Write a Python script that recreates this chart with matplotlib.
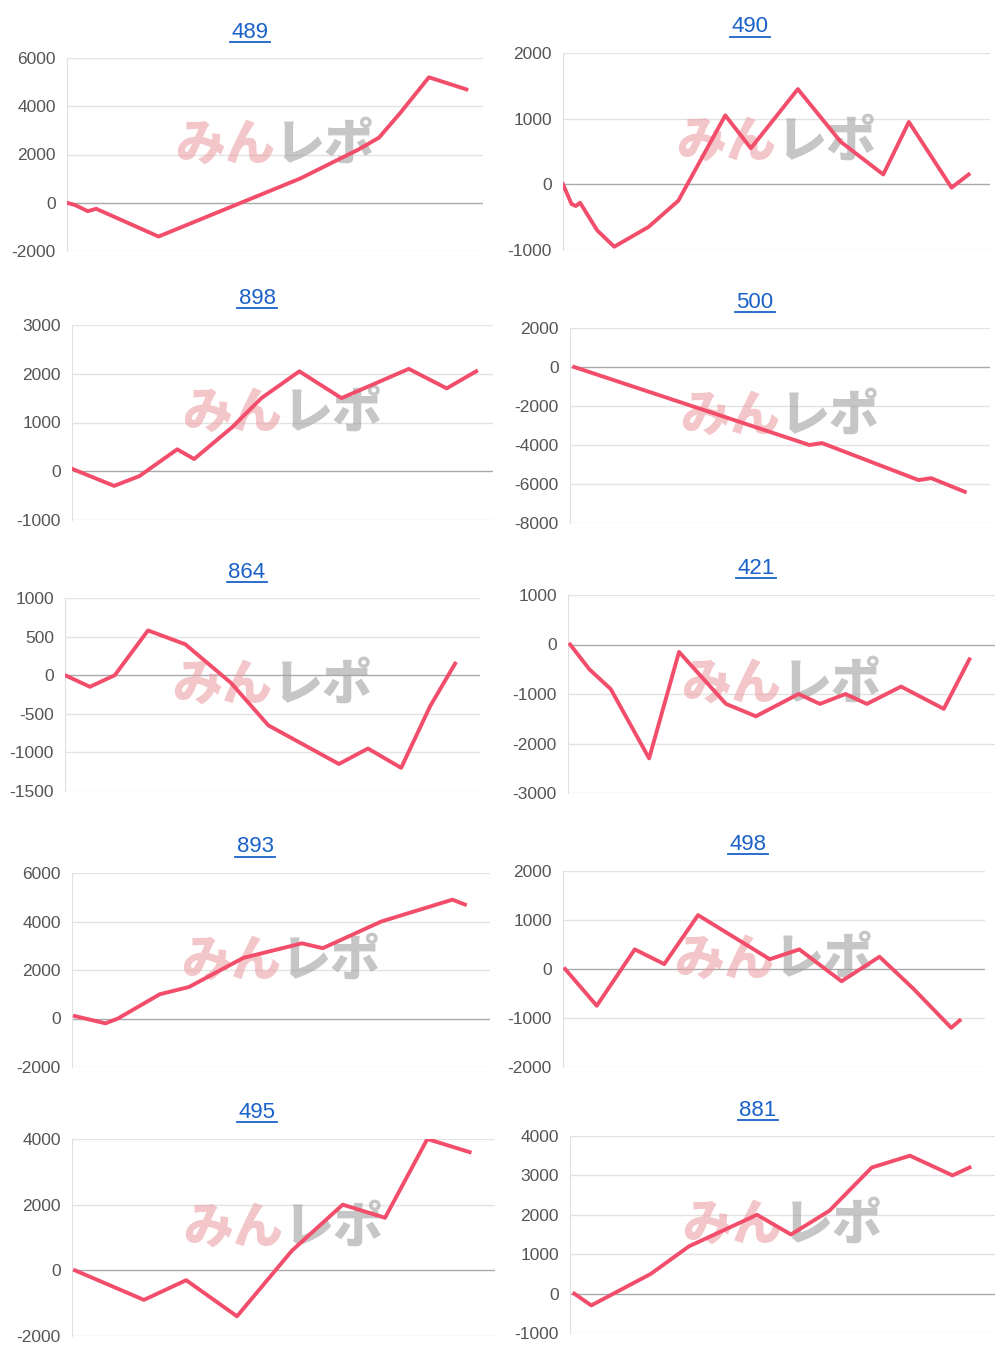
import matplotlib
matplotlib.use("Agg")
import matplotlib.pyplot as plt

plt.rcParams["font.family"] = ["Liberation Sans", "DejaVu Sans"]

W, H = 1000, 1358

# panel titles and data (x: % of plot width, y: value)
TITLES = ["489", "490", "898", "500", "864", "421", "893", "498", "495", "881"]

X489 = [0, 2, 5, 7, 22, 39, 56, 63, 70, 75, 80, 87, 96]
Y489 = [0, -100, -350, -250, -1400, -200, 1000, 1600, 2200, 2700, 3700, 5200, 4700]
X490 = [0, 2, 3, 4, 8, 12, 20, 27, 38, 44, 55, 65, 75, 81, 91, 95]
Y490 = [0, -300, -330, -280, -700, -950, -650, -250, 1050, 550, 1450, 650, 150, 950, -50, 150]
X898 = [0, 10, 16, 25, 29, 38, 45, 54, 64, 80, 89, 96]
Y898 = [50, -300, -100, 450, 250, 900, 1500, 2050, 1500, 2100, 1700, 2050]
X500 = [1, 57, 60, 83, 86, 94]
Y500 = [0, -4000, -3900, -5800, -5700, -6400]
X864 = [0, 6, 12, 20, 29, 40, 49, 66, 73, 81, 88, 94]
Y864 = [0, -150, 0, 580, 400, -100, -650, -1150, -950, -1200, -400, 150]
X421 = [0.5, 5, 10, 19, 26, 37, 44, 54, 59, 65, 70, 78, 88, 94]
Y421 = [0, -500, -900, -2300, -150, -1200, -1450, -1000, -1200, -1000, -1200, -850, -1300, -300]
X893 = [0.7, 8, 11, 21, 28, 41, 55, 60, 74, 91, 94]
Y893 = [100, -200, 0, 1000, 1300, 2500, 3100, 2900, 4000, 4900, 4700]
X498 = [0.5, 8, 17, 24, 32, 49, 56, 66, 75, 83, 92, 94]
Y498 = [0, -750, 400, 100, 1100, 200, 400, -250, 250, -400, -1200, -1050]
X495 = [0.7, 17, 27, 39, 52, 64, 74, 84, 94]
Y495 = [0, -900, -300, -1400, 600, 2000, 1600, 4000, 3600]
X881 = [1, 5, 19, 28, 44, 52, 61, 71, 80, 90, 94]
Y881 = [0, -300, 500, 1200, 2000, 1500, 2100, 3200, 3500, 3000, 3200]

SERIES = [(X489, Y489), (X490, Y490), (X898, Y898), (X500, Y500), (X864, Y864),
          (X421, Y421), (X893, Y893), (X498, Y498), (X495, Y495), (X881, Y881)]

TICKS = [
    [-2000, 0, 2000, 4000, 6000],
    [-1000, 0, 1000, 2000],
    [-1000, 0, 1000, 2000, 3000],
    [-8000, -6000, -4000, -2000, 0, 2000],
    [-1500, -1000, -500, 0, 500, 1000],
    [-3000, -2000, -1000, 0, 1000],
    [-2000, 0, 2000, 4000, 6000],
    [-2000, -1000, 0, 1000, 2000],
    [-2000, 0, 2000, 4000],
    [-1000, 0, 1000, 2000, 3000, 4000],
]

# pixel boxes: left, right, top, bottom, title x, title y
BOXES = [
    (67, 483, 58, 251, 250, 32), (563, 990, 53, 250, 750, 27),
    (72, 493, 325, 520, 257, 298), (570, 990, 328, 523, 755, 302),
    (65, 480, 598, 791, 247, 572), (568, 995, 595, 793, 756, 568),
    (72, 490, 873, 1067, 255, 847), (563, 985, 871, 1067, 748, 844),
    (72, 495, 1139, 1336, 257, 1112), (570, 995, 1136, 1333, 758, 1110),
]

LINE = "#f24d6b"
WM = dict(fontsize=36, fontweight="heavy", style="italic", alpha=0.6,
          family=["Noto Sans CJK JP", "DejaVu Sans"], zorder=1, va="center")

fig = plt.figure(figsize=(W / 100, H / 100), dpi=100)
for (xs, ys), ticks, title, (l, r, t, b, tx, ty) in zip(SERIES, TICKS, TITLES, BOXES):
    ax = fig.add_axes([l / W, 1 - b / H, (r - l) / W, (b - t) / H])
    ax.set_xlim(0, 100)
    ax.set_ylim(ticks[0], ticks[-1])
    ax.set_yticks(ticks)
    ax.set_yticklabels([str(v) for v in ticks])
    ax.set_xticks([])
    for s in ["top", "right", "bottom"]:
        ax.spines[s].set_visible(False)
    ax.spines["left"].set_color("#e0e0e0")
    ax.tick_params(axis="y", length=0, labelsize=12.5, labelcolor="#555555", pad=8)
    for v in ticks:
        ax.axhline(v, color="#aaaaaa" if v == 0 else "#e3e3e3", lw=1, zorder=0)
    ax.text(0.5, 0.55, "みん", transform=ax.transAxes, ha="right", color="#eba0a5", **WM)
    ax.text(0.5, 0.55, "レポ", transform=ax.transAxes, ha="left", color="#a0a0a0", **WM)
    ax.plot(xs, ys, color=LINE, lw=2.8, zorder=3, solid_joinstyle="round")
    fig.text(tx / W, 1 - ty / H, title, ha="center", va="center", fontsize=16,
             color="#1a62c8")
    # underline for link-style title
    fig.add_artist(plt.Line2D([(tx - 20) / W, (tx + 20) / W],
                              [1 - (ty + 10) / H, 1 - (ty + 10) / H],
                              color="#1a62c8", lw=1.3))

fig.savefig("out.png", dpi=100, facecolor="white")
